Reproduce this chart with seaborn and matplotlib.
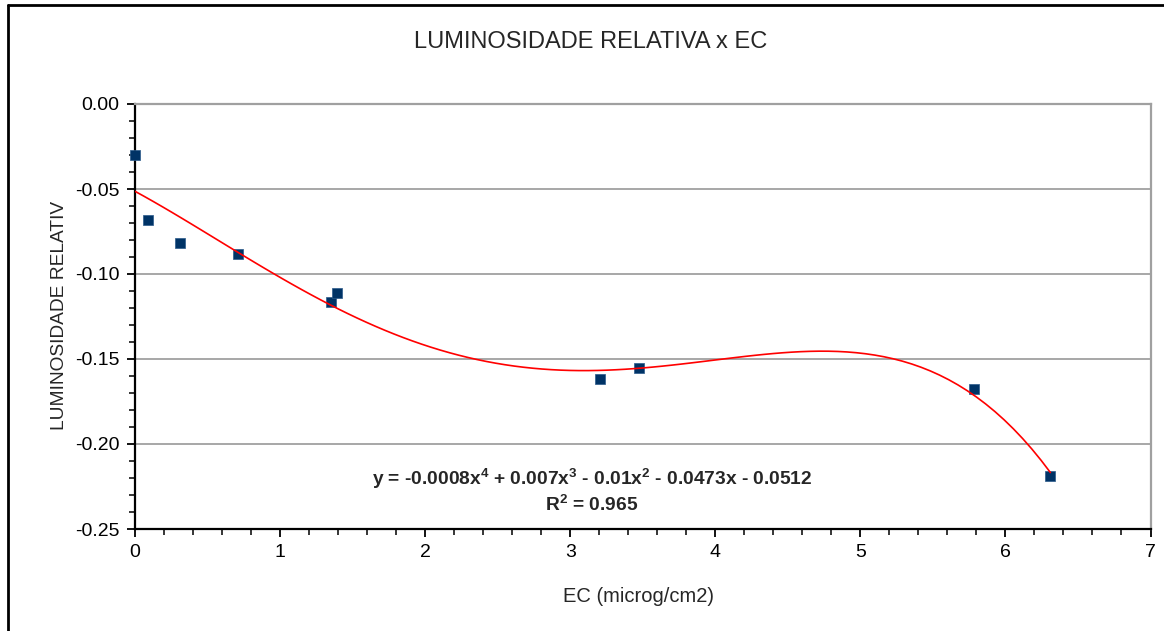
import matplotlib
matplotlib.use("Agg")
import matplotlib.pyplot as plt
import seaborn as sns
import numpy as np
from matplotlib.ticker import MultipleLocator, FormatStrFormatter
from matplotlib.lines import Line2D

# ---- data ----
ec = [0.00, 0.087, 0.31, 0.713, 1.35, 1.395, 3.207, 3.474, 5.784, 6.31]
lum = [-0.030, -0.0683, -0.082, -0.0882, -0.1164, -0.1109, -0.1616, -0.1555, -0.1678, -0.219]

title = "LUMINOSIDADE RELATIVA x EC"
xlabel = "EC (microg/cm2)"
ylabel = "LUMINOSIDADE RELATIV"
eq_line1 = (r"y = -0.0008x$^{\mathbf{4}}$ + 0.007x$^{\mathbf{3}}$ - 0.01x$^{\mathbf{2}}$"
            r" - 0.0473x - 0.0512")
eq_line2 = r"R$^{\mathbf{2}}$ = 0.965"

sns.set_theme(style="white")
plt.rcParams["font.family"] = ["Liberation Sans", "DejaVu Sans"]
plt.rcParams["axes.unicode_minus"] = False
plt.rcParams["mathtext.fontset"] = "custom"
plt.rcParams["mathtext.rm"] = "Liberation Sans"
plt.rcParams["mathtext.bf"] = "Liberation Sans:bold"

W, H = 1164, 631
fig = plt.figure(figsize=(W / 100, H / 100), dpi=100)
fig.patch.set_facecolor("white")
ax = fig.add_axes([135 / W, 1 - 529 / H, (1150.5 - 135) / W, (529 - 104) / H])

# trend line (4th-order polynomial fit computed by seaborn)
sns.regplot(x=ec, y=lum, order=4, ci=None, scatter=False, truncate=True,
            color="#ff0000", line_kws={"lw": 1.2, "zorder": 4}, ax=ax)
# data points
sns.scatterplot(x=ec, y=lum, marker="s", s=60, color="#003366",
                edgecolor="#2a5a8a", linewidth=0.5, zorder=3, ax=ax, clip_on=False)

ax.set_xlim(0, 7)
ax.set_ylim(-0.25, 0.0)
ax.xaxis.set_major_locator(MultipleLocator(1))
ax.xaxis.set_minor_locator(MultipleLocator(0.2))
ax.yaxis.set_major_locator(MultipleLocator(0.05))
ax.yaxis.set_minor_locator(MultipleLocator(0.01))
ax.yaxis.set_major_formatter(FormatStrFormatter("%.2f"))
ax.xaxis.set_major_formatter(FormatStrFormatter("%d"))

ax.tick_params(axis="both", which="major", direction="out", length=6, width=1.3,
               color="black", labelsize=14, labelcolor="black", pad=5,
               bottom=True, left=True)
ax.tick_params(axis="both", which="minor", direction="out", length=4, width=1.1,
               color="black", bottom=True, left=True)

ax.yaxis.grid(True, which="major", color="#a0a0a0", lw=1.3)
ax.xaxis.grid(False)
ax.set_axisbelow(True)

for side in ["left", "bottom"]:
    ax.spines[side].set_color("black")
    ax.spines[side].set_linewidth(1.6)
for side in ["top", "right"]:
    ax.spines[side].set_color("#a0a0a0")
    ax.spines[side].set_linewidth(1.6)

ax.set_xlabel("")
ax.set_ylabel("")

fig.text(591 / W, 1 - 42 / H, title, ha="center", va="center", fontsize=17)
fig.text(638 / W, 1 - 597 / H, xlabel, ha="center", va="center", fontsize=14.5)
fig.text(60 / W, 1 - 315 / H, ylabel, ha="center", va="center", rotation=90,
         fontsize=13.8)

fig.text(592 / W, 1 - 479 / H, eq_line1, ha="center", va="center",
         fontsize=13.8, fontweight="bold")
fig.text(592 / W, 1 - 505 / H, eq_line2, ha="center", va="center",
         fontsize=13.8, fontweight="bold")

# outer chart border (top and left edges visible)
fig.add_artist(Line2D([8 / W, 1.0], [1 - 5 / H, 1 - 5 / H], transform=fig.transFigure,
                      color="black", lw=2))
fig.add_artist(Line2D([8 / W, 8 / W], [0.0, 1 - 5 / H], transform=fig.transFigure,
                      color="black", lw=2))

fig.savefig("out.png", dpi=100, facecolor="white")
